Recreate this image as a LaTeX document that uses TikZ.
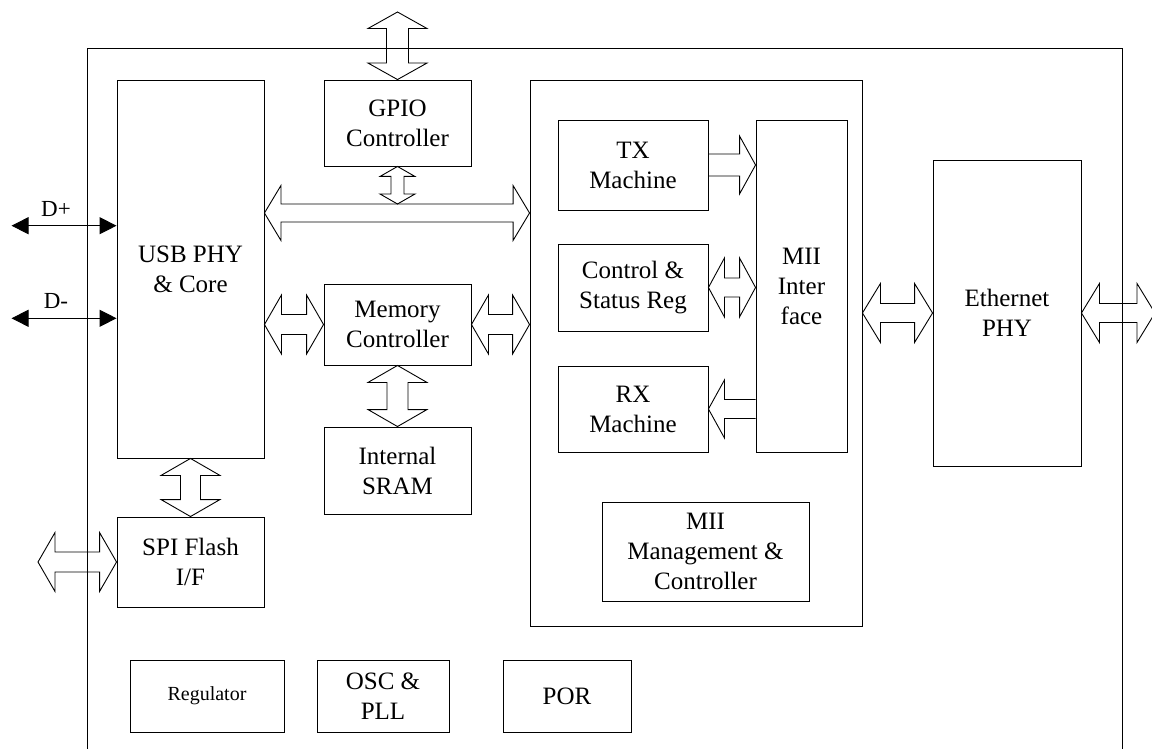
\documentclass[tikz,border=0pt]{standalone}
\usepackage{fontspec}
\setmainfont{Liberation Serif}
\usetikzlibrary{calc,arrows.meta}
\tikzset{
  box/.style={draw, line width=0.9pt, inner sep=0pt, align=center, font=\fontsize{25}{30}\selectfont},
  smallbox/.style={box, font=\fontsize{20}{24}\selectfont},
  barrow/.style={draw, line width=0.9pt, line join=miter},
  wire/.style={line width=0.9pt, {Triangle[length=17pt,width=17pt]}-{Triangle[length=17pt,width=17pt]}},
  lbl/.style={font=\fontsize{23}{26}\selectfont, anchor=base, inner sep=0pt}
}
% horizontal double block arrow: left tip, right tip, head length, head half, shaft half
\newcommand\blockH[5]{\draw[barrow] let \p1=(#1), \p2=(#2) in
  (\x1,\y1) -- (\x1+#3pt,\y1+#4pt) -- (\x1+#3pt,\y1+#5pt) -- (\x2-#3pt,\y1+#5pt) -- (\x2-#3pt,\y1+#4pt) -- (\x2,\y1)
  -- (\x2-#3pt,\y1-#4pt) -- (\x2-#3pt,\y1-#5pt) -- (\x1+#3pt,\y1-#5pt) -- (\x1+#3pt,\y1-#4pt) -- cycle;}
% vertical double block arrow: top tip, bottom tip
\newcommand\blockV[5]{\draw[barrow] let \p1=(#1), \p2=(#2) in
  (\x1,\y1) -- (\x1+#4pt,\y1-#3pt) -- (\x1+#5pt,\y1-#3pt) -- (\x1+#5pt,\y2+#3pt) -- (\x1+#4pt,\y2+#3pt) -- (\x1,\y2)
  -- (\x1-#4pt,\y2+#3pt) -- (\x1-#5pt,\y2+#3pt) -- (\x1-#5pt,\y1-#3pt) -- (\x1-#4pt,\y1-#3pt) -- cycle;}
% single right block arrow: tail (left), tip (right)
\newcommand\blockR[5]{\draw[barrow] let \p1=(#1), \p2=(#2) in
  (\x1,\y1+#5pt) -- (\x2-#3pt,\y1+#5pt) -- (\x2-#3pt,\y1+#4pt) -- (\x2,\y1) -- (\x2-#3pt,\y1-#4pt) -- (\x2-#3pt,\y1-#5pt) -- (\x1,\y1-#5pt);}
% single left block arrow: tip (left), tail (right)
\newcommand\blockL[5]{\draw[barrow] let \p1=(#1), \p2=(#2) in
  (\x2,\y1+#5pt) -- (\x1+#3pt,\y1+#5pt) -- (\x1+#3pt,\y1+#4pt) -- (\x1,\y1) -- (\x1+#3pt,\y1-#4pt) -- (\x1+#3pt,\y1-#5pt) -- (\x2,\y1-#5pt);}
\begin{document}
\begin{tikzpicture}[x=1pt,y=-1pt]
\useasboundingbox (0,0) rectangle (1152,749);
% outer chip outline (open at bottom)
\draw[line width=0.9pt] (87,752) -- (87,48.5) -- (1122,48.5) -- (1122,752);

\node[box, minimum width=147pt, minimum height=378pt] (usb) at (190.5,269) {USB PHY\\\& Core};
\node[box, minimum width=147pt, minimum height=86pt] (gpio) at (397.5,123) {GPIO\\Controller};
\node[box, minimum width=147pt, minimum height=81pt] (mem) at (397.5,324.5) {Memory\\Controller};
\node[box, minimum width=147pt, minimum height=87pt] (sram) at (397.5,470.5) {Internal\\SRAM};
\node[box, minimum width=147pt, minimum height=90pt] (spi) at (190.5,562) {SPI Flash\\I/F};
\node[box, minimum width=332pt, minimum height=546pt] (miiblk) at (696,353) {};
\node[box, minimum width=150pt, minimum height=90pt] (tx) at (633,165) {TX\\Machine};
\node[box, minimum width=150pt, minimum height=87pt] (ctrl) at (633,287.5) {Control \&\\Status Reg};
\node[box, minimum width=150pt, minimum height=86pt] (rx) at (633,409) {RX\\Machine};
\node[box, minimum width=91pt, minimum height=332pt] (mii) at (801.5,286) {MII\\Inter\\face};
\node[box, minimum width=207pt, minimum height=99pt] (mgmt) at (705.5,551.5) {MII\\Management \&\\Controller};
\node[box, minimum width=148pt, minimum height=306pt] (eth) at (1007,313) {Ethernet\\PHY};
\node[smallbox, minimum width=154pt, minimum height=72pt] (reg) at (207,696) {Regulator};
\node[box, minimum width=132pt, minimum height=72pt] (osc) at (383,696) {OSC \&\\PLL};
\node[box, minimum width=128pt, minimum height=72pt] (por) at (567,696) {POR};

% external ends
\coordinate (gpioext) at (397.5,12);
\coordinate (spiext) at (38,562);
\coordinate (ethext) at (1155,313);
\coordinate (dpext) at (11.5,225.7);
\coordinate (dmext) at (11.5,318.3);
\coordinate (busL) at (264,213);

% block arrows
\blockV{gpioext}{gpio.north}{16.5}{29.5}{11}
\blockV{gpio.south}{gpio.south |- 0,204}{10}{17.5}{6.5}
\blockH{usb.east |- busL}{miiblk.west |- busL}{16.5}{27.5}{9}
\blockH{usb.east |- mem.west}{mem.west}{17}{29.5}{10}
\blockH{mem.east}{miiblk.west |- mem.east}{17}{29.5}{10}
\blockV{mem.south}{sram.north}{17}{29.5}{10.5}
\blockV{usb.south}{spi.north}{17}{29.5}{10}
\blockH{spiext}{spi.west}{17}{29.5}{10}
\blockR{tx.east}{mii.west |- tx.east}{16}{29}{11}
\blockH{ctrl.east}{mii.west |- ctrl.east}{16}{29.5}{9.5}
\blockL{rx.east}{mii.west |- rx.east}{16}{29}{9.5}
\blockH{miiblk.east |- eth.west}{eth.west}{18}{29.5}{9.5}
\blockH{eth.east}{ethext}{18}{29.5}{9.5}

% USB data lines
\draw[wire] (dpext) -- (usb.west |- dpext);
\draw[wire] (dmext) -- (usb.west |- dmext);
\node[lbl] (dplbl) at (56,216) {D+};
\node[lbl] (dmlbl) at (56,308) {D-};
\end{tikzpicture}
\end{document}
